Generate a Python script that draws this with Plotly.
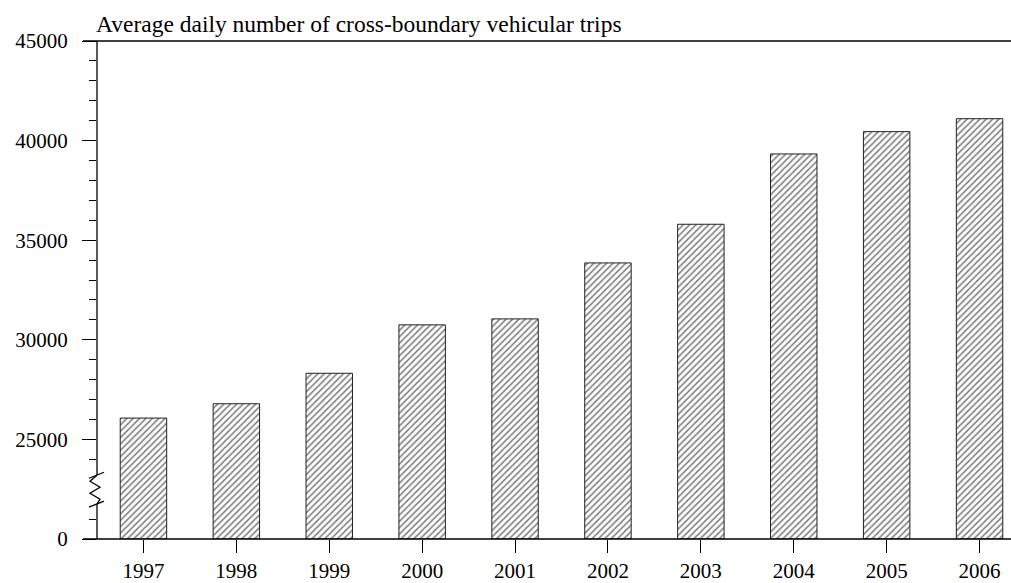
import plotly.graph_objects as go

years = ["1997", "1998", "1999", "2000", "2001", "2002", "2003", "2004", "2005", "2006"]
trips = [26070, 26790, 28320, 30750, 31050, 33860, 35800, 39330, 40450, 41100]
y_tickvals = [20000, 25000, 30000, 35000, 40000, 45000]
y_ticktext = ["0", "25000", "30000", "35000", "40000", "45000"]
axis_floor = 20000  # value at which the broken axis shows "0"
minor_vals = [21000, 24000] + [v for v in range(26000, 45000, 1000) if v % 5000 != 0]
title_text = "Average daily number of cross-boundary vehicular trips"

W, H = 1011, 583
L, T, B, R = 97, 41, 42, 0
PW, PH = W - L - R, H - T - B


def px(x):
    return (x - L) / PW


def py(y):
    return (H - B - y) / PH


FONT = "Liberation Serif, Times New Roman, serif"

fig = go.Figure(go.Bar(
    x=years,
    y=[v - axis_floor for v in trips],
    base=axis_floor,
    width=0.5,
    marker=dict(
        color="white",
        line=dict(color="#222", width=1),
        pattern=dict(shape="/", fgcolor="black", bgcolor="white", size=4.5, solidity=0.35),
    ),
    hoverinfo="skip",
))

line = dict(color="black", width=1.3)
shapes = [
    dict(type="line", xref="paper", yref="paper", x0=px(83), x1=1, y0=1, y1=1, line=line),
    dict(type="line", xref="paper", yref="paper", x0=px(83), x1=1, y0=0, y1=0, line=line),
    dict(type="line", xref="paper", yref="paper", x0=0, x1=0, y0=1, y1=py(477), line=line),
    dict(type="line", xref="paper", yref="paper", x0=0, x1=0, y0=py(506), y1=0, line=line),
    dict(type="line", xref="paper", yref="paper", x0=px(89), x1=px(104), y0=py(480), y1=py(474), line=line),
    dict(type="line", xref="paper", yref="paper", x0=px(89), x1=px(104), y0=py(509), y1=py(503), line=line),
]
zz = [(97, 477), (90, 483), (100, 489), (90, 495), (100, 501), (97, 506)]
path = "M " + " L ".join(f"{px(x)},{py(y)}" for x, y in zz)
shapes.append(dict(type="path", xref="paper", yref="paper", path=path, line=line))

fig.update_layout(
    width=W, height=H,
    margin=dict(l=L, r=R, t=T, b=B),
    plot_bgcolor="white", paper_bgcolor="white",
    font=dict(family=FONT, size=21, color="black"),
    showlegend=False,
    shapes=shapes,
    xaxis=dict(
        type="category",
        range=[-0.5, -0.5 + PW / 92.9],
        showline=False, showgrid=False, zeroline=False,
        ticks="outside", ticklen=13, tickwidth=1.3, tickcolor="black",
        tickfont=dict(family=FONT, size=21),
    ),
    yaxis=dict(
        range=[axis_floor, 45000],
        tickmode="array", tickvals=y_tickvals, ticktext=y_ticktext,
        showline=False, showgrid=False, zeroline=False,
        ticks="outside", ticklen=14, tickwidth=1.3, tickcolor="black",
        ticklabelstandoff=10,
        tickfont=dict(family=FONT, size=21),
        minor=dict(tickmode="array", tickvals=minor_vals, ticks="outside",
                   ticklen=7, tickwidth=1.3, tickcolor="black", showgrid=False),
    ),
    annotations=[dict(
        text=title_text, xref="paper", yref="paper", x=0, y=1,
        xanchor="left", yanchor="bottom", xshift=-3, yshift=2, showarrow=False,
        font=dict(family=FONT, size=23.5, color="black"),
    )],
)

fig.write_html("out.html", config={"displayModeBar": False},
               post_script="document.body.style.margin='0';document.body.style.overflow='hidden';")
